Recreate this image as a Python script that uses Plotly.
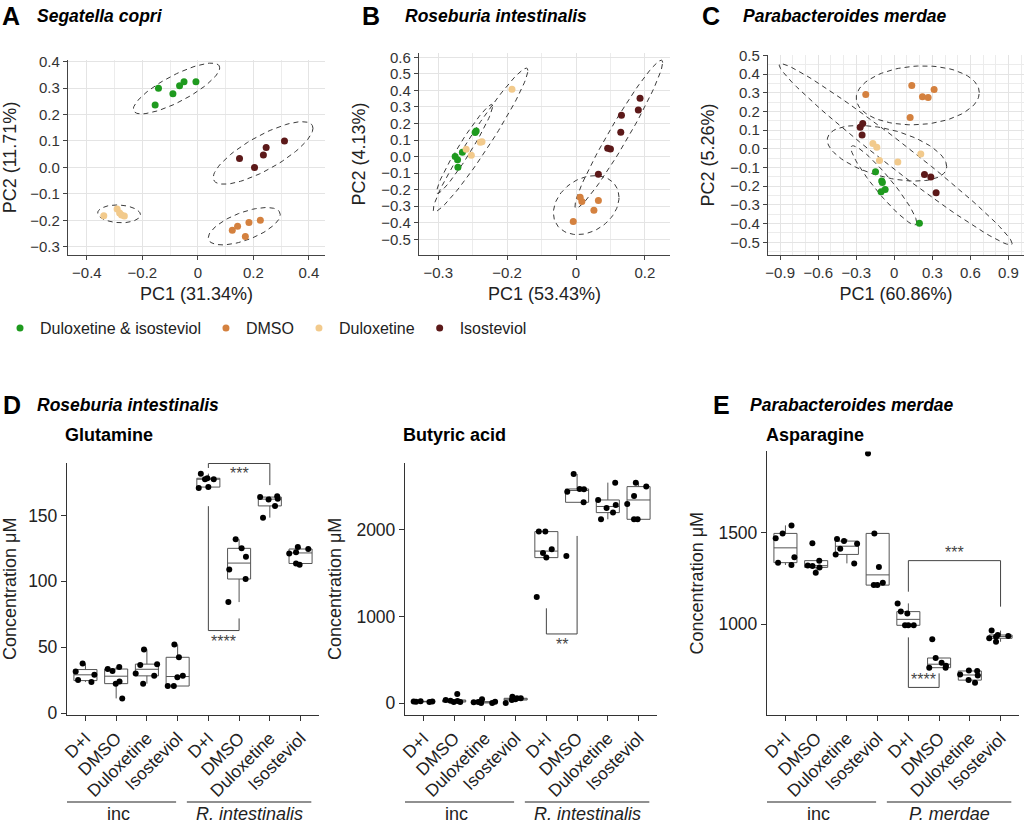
import numpy as np
import plotly.graph_objects as go

FONT = "Liberation Sans, Arial, sans-serif"
GROUPS = ["Duloxetine & isosteviol", "DMSO", "Duloxetine", "Isosteviol"]
COLORS = ["#1e9a1e", "#d4813f", "#f2ca8c", "#5c1919"]

# ---------------- PCA data (PC1, PC2) ----------------
# Panel A  Segatella copri
A_DI_X = [-0.154, -0.142, -0.090, -0.066, -0.050, -0.007]
A_DI_Y = [0.236, 0.299, 0.278, 0.309, 0.324, 0.324]
A_DMSO_X = [0.124, 0.143, 0.184, 0.225, 0.171]
A_DMSO_Y = [-0.237, -0.222, -0.208, -0.200, -0.261]
A_DUL_X = [-0.339, -0.291, -0.275, -0.265, -0.282]
A_DUL_Y = [-0.183, -0.157, -0.180, -0.184, -0.172]
A_ISO_X = [0.150, 0.204, 0.246, 0.236, 0.312]
A_ISO_Y = [0.034, 0.000, 0.075, 0.047, 0.100]

# Panel B  Roseburia intestinalis
B_DI_X = [-0.293, -0.290, -0.330, -0.351, -0.344, -0.343]
B_DI_Y = [0.145, 0.155, 0.026, 0.000, -0.020, -0.065]
B_DMSO_X = [0.012, 0.017, 0.065, 0.052, -0.008]
B_DMSO_Y = [-0.246, -0.272, -0.266, -0.325, -0.393]
B_DUL_X = [-0.186, -0.278, -0.273, -0.319, -0.304]
B_DUL_Y = [0.407, 0.086, 0.090, 0.044, 0.008]
B_ISO_X = [0.186, 0.181, 0.132, 0.130, 0.092, 0.100, 0.065]
B_ISO_Y = [0.352, 0.282, 0.249, 0.147, 0.050, 0.046, -0.107]

# Panel C  Parabacteroides merdae
C_DI_X = [-0.148, -0.099, -0.094, -0.072, -0.104, 0.198]
C_DI_Y = [-0.122, -0.172, -0.180, -0.217, -0.229, -0.398]
C_DMSO_X = [-0.225, 0.138, 0.222, 0.267, 0.314, 0.125]
C_DMSO_Y = [0.291, 0.339, 0.279, 0.275, 0.318, 0.168]
C_DUL_X = [-0.169, -0.138, -0.117, 0.028, 0.209]
C_DUL_Y = [0.029, 0.008, -0.062, -0.071, -0.028]
C_ISO_X = [-0.269, -0.249, -0.254, 0.238, 0.288, 0.330]
C_ISO_Y = [0.115, 0.136, 0.074, -0.137, -0.151, -0.235]

# ---------------- Concentration data ----------------
CATS = ["D+I", "DMSO", "Duloxetine", "Isosteviol", "D+I", "DMSO", "Duloxetine", "Isosteviol"]
GLN = [
    [29, 25, 23.5, 31.5, 37.5],
    [24, 22.3, 34.9, 33.4, 31.9, 11.1],
    [28.2, 30, 36.4, 37.1, 22.3, 48.3],
    [20.5, 20.5, 42.3, 52, 28.2, 27.2],
    [170.8, 177.5, 177.5, 171.5, 178.2, 181.7],
    [101.7, 131.9, 125, 118.6, 109, 84.2],
    [162.1, 162.6, 157.2, 164.6, 163.9, 148.3],
    [113.5, 112.5, 122, 124.5, 121, 126],
]
BUT = [
    [20, 18, 25, 15, 22],
    [38, 27, 15, 15, 108, 30],
    [15, 4, 4, 46, 19, 12],
    [4, 58, 58, 77, 38, 46],
    [1981, 1981, 1777, 1735, 1681, 1227],
    [2646, 2442, 2469, 2473, 2319, 1700],
    [2546, 2346, 2123, 2200, 2288, 2254],
    [2546, 2500, 2392, 2300, 2123, 2123],
]
ASN = [
    [1323, 1336, 1365, 1469, 1496, 1540],
    [1347, 1310, 1442, 1321, 1318, 1281],
    [1454, 1332, 1412, 1440, 1381, 1465],
    [1496, 1226, 1213, 1213, 1312, 1934],
    [1113, 993, 993, 993, 1068, 1058],
    [761, 772, 788, 814, 761, 916],
    [745, 718, 743, 679, 693, 724],
    [934, 903, 930, 940, 964, 922],
]
# brackets: (x_left, x_right, y_bar, y_left_end, y_right_end, label, label_y)
GLN_BRACKETS = [(5, 7, 189.4, 186, 173, "***", 181.5), (5, 6, 62.6, 157, 71.8, "****", 54.5)]
BUT_BRACKETS = [(5, 6, 800, 1096, 1931, "**", 673)]
ASN_BRACKETS = [(5, 8, 1347, 1177, 1095, "***", 1392), (5, 6, 653, 927, 730, "****", 697)]
ASN_TICKVALS = [500, 1000, 1500]
ASN_TICKTEXT = ["0", "1000", "1500"]
B_TICKVALS = [-0.4, -0.2, 0, 0.2]
B_TICKTEXT = ["\u22120.3", "\u22120.2", "0", "0.2"]

FQ95 = {2: 19.0, 3: 9.552, 4: 6.944, 5: 5.786, 6: 5.143, 7: 4.737}


def cov_trob(P, nu=5, maxit=25, tol=0.01):
    """Multivariate t robust covariance (as MASS::cov.trob, used by ggplot stat_ellipse)."""
    n, p = P.shape
    wt = np.ones(n)
    loc = P.mean(axis=0)
    w = np.sqrt(wt)
    X = P - loc
    for _ in range(maxit):
        w0 = w
        X = P - loc
        S = (X * (w / w.sum())[:, None]).T @ X
        Q = np.einsum("ij,jk,ik->i", X, np.linalg.inv(S), X)
        w = wt * (nu + p) / (nu + Q)
        loc = (w[:, None] * P).sum(axis=0) / w.sum()
        if np.all(np.abs(w - w0) < tol):
            break
    cov = (X * w[:, None]).T @ X / wt.sum()
    return loc, cov


def ellipse(x, y, nseg=80):
    P = np.column_stack([np.asarray(x, float), np.asarray(y, float)])
    n = len(P)
    c, cov = cov_trob(P)
    r = np.sqrt(2 * FQ95[n - 1])
    L = np.linalg.cholesky(cov)
    t = np.linspace(0, 2 * np.pi, nseg + 1)
    pts = c[:, None] + r * (L @ np.vstack([np.cos(t), np.sin(t)]))
    return pts[0], pts[1]


fig = go.Figure()

pca_sets = [
    ("x", "y", [(A_DI_X, A_DI_Y), (A_DMSO_X, A_DMSO_Y), (A_DUL_X, A_DUL_Y), (A_ISO_X, A_ISO_Y)], True),
    ("x2", "y2", [(B_DI_X, B_DI_Y), (B_DMSO_X, B_DMSO_Y), (B_DUL_X, B_DUL_Y), (B_ISO_X, B_ISO_Y)], False),
    ("x3", "y3", [(C_DI_X, C_DI_Y), (C_DMSO_X, C_DMSO_Y), (C_DUL_X, C_DUL_Y), (C_ISO_X, C_ISO_Y)], False),
]
for xa, ya, sets, leg in pca_sets:
    for (px, py) in sets:
        ex, ey = ellipse(px, py)
        fig.add_trace(go.Scatter(x=ex, y=ey, mode="lines", xaxis=xa, yaxis=ya, showlegend=False,
                                 line=dict(color="#3a3a3a", width=1, dash="5px,4px"), hoverinfo="skip"))
    for g, (px, py) in enumerate(sets):
        fig.add_trace(go.Scatter(x=px, y=py, mode="markers", xaxis=xa, yaxis=ya, name=GROUPS[g],
                                 showlegend=leg, marker=dict(color=COLORS[g], size=7)))

box_sets = [("x4", "y4", GLN, GLN_BRACKETS), ("x5", "y5", BUT, BUT_BRACKETS), ("x6", "y6", ASN, ASN_BRACKETS)]
shapes = []
annotations = []
for xa, ya, data, brackets in box_sets:
    xs, ys = [], []
    for i, vals in enumerate(data):
        xs += [i + 1] * len(vals)
        ys += vals
    fig.add_trace(go.Box(x=xs, y=ys, xaxis=xa, yaxis=ya, boxpoints="all", jitter=1.0, pointpos=0,
                         width=0.75, whiskerwidth=0, quartilemethod="linear", fillcolor="white",
                         line=dict(color="#555555", width=1), marker=dict(color="black", size=6),
                         showlegend=False))
    for (x0, x1, yb, yl, yr, lab, ly) in brackets:
        for seg in [(x0, yl, x0, yb), (x0, yb, x1, yb), (x1, yb, x1, yr)]:
            shapes.append(dict(type="line", xref=xa, yref=ya, x0=seg[0], y0=seg[1], x1=seg[2], y1=seg[3],
                               line=dict(color="#444444", width=1)))
        annotations.append(dict(x=(x0 + x1) / 2, y=ly, xref=xa, yref=ya, text=lab, showarrow=False,
                                font=dict(size=16, color="#444444", family=FONT)))

# group labels under the box panels
GROUP_SPANS = [(0.2, 3.95), (4.3, 8.35)]
GROUP_LABELS = {"x4": ["inc", "<i>R. intestinalis</i>"], "x5": ["inc", "<i>R. intestinalis</i>"],
                "x6": ["inc", "<i>P. merdae</i>"]}
for xa, labs in GROUP_LABELS.items():
    for (s0, s1), lab in zip(GROUP_SPANS, labs):
        shapes.append(dict(type="line", xref=xa, yref="paper", x0=s0, x1=s1, y0=1 - 802 / 825, y1=1 - 802 / 825,
                           line=dict(color="#222222", width=1.2)))
        annotations.append(dict(x=(s0 + s1) / 2, y=1 - 813.5 / 825, xref=xa, yref="paper", text=lab,
                                showarrow=False, yanchor="middle",
                                font=dict(size=18, color="#222222", family=FONT)))


def ptitle(letter, lx, tx, ty, title):
    annotations.append(dict(x=lx / 1024, y=1 - ty / 825, xref="paper", yref="paper", text="<b>%s</b>" % letter,
                            showarrow=False, xanchor="left", yanchor="middle",
                            font=dict(size=25, color="black", family=FONT)))
    annotations.append(dict(x=tx / 1024, y=1 - ty / 825, xref="paper", yref="paper",
                            text="<b><i>%s</i></b>" % title, showarrow=False, xanchor="left", yanchor="middle",
                            font=dict(size=17.5, color="black", family=FONT)))


ptitle("A", 0, 35, 16, "Segatella copri")
ptitle("B", 360, 403, 16, "Roseburia intestinalis")
ptitle("C", 700, 741, 16, "Parabacteroides merdae")
ptitle("D", 1, 35, 405, "Roseburia intestinalis")
ptitle("E", 711, 748, 405, "Parabacteroides merdae")
for tx, t in [(63, "Glutamine"), (401, "Butyric acid"), (764, "Asparagine")]:
    annotations.append(dict(x=tx / 1024, y=1 - 435 / 825, xref="paper", yref="paper", text="<b>%s</b>" % t,
                            showarrow=False, xanchor="left", yanchor="middle",
                            font=dict(size=18, color="black", family=FONT)))

AX_LINE = "#444444"
GRID = "#e4e4e4"


def pca_axis(domain, rng, title, anchor, standoff, dtick=None, minor=None, tickvals=None, ticktext=None, fmt=None):
    d = dict(domain=domain, range=rng, anchor=anchor, automargin=False, showline=True, linecolor=AX_LINE,
             linewidth=1.3, ticks="outside", ticklen=4, tickcolor=AX_LINE, showgrid=True, gridcolor=GRID,
             gridwidth=1, zeroline=False, tickfont=dict(size=15, color="#333333", family=FONT),
             title=dict(text=title, font=dict(size=18, color="#222222", family=FONT), standoff=standoff))
    if dtick is not None:
        d.update(dtick=dtick, tick0=0)
    if tickvals is not None:
        d.update(tickmode="array", tickvals=tickvals, ticktext=ticktext)
    if minor is not None:
        d["minor"] = dict(dtick=minor, tick0=0, showgrid=True, gridcolor="#ececec", ticks="")
    if fmt:
        d["tickformat"] = fmt
    return d


def box_xaxis(domain, anchor):
    return dict(domain=domain, range=[0.4, 8.6], anchor=anchor, automargin=False, showline=True,
                linecolor="#333333", linewidth=1.3, ticks="outside", ticklen=5, tickcolor="#333333",
                showgrid=False, zeroline=False, tickmode="array", tickvals=list(range(1, 9)), ticktext=CATS,
                tickangle=-45, tickfont=dict(size=17.5, color="#222222", family=FONT))


def box_yaxis(domain, rng, anchor, **kw):
    d = dict(domain=domain, range=rng, anchor=anchor, automargin=False, showline=True, linecolor="#333333",
             linewidth=1.3, ticks="outside", ticklen=5, tickcolor="#333333", showgrid=False, zeroline=False,
             tickfont=dict(size=17.5, color="#222222", family=FONT),
             title=dict(text="Concentration \u03bcM", font=dict(size=18, color="#222222", family=FONT),
                        standoff=10))
    d.update(kw)
    return d


TOPY = [1 - 255 / 825, 1 - 60 / 825]
BOTY = [1 - 715 / 825, 1 - 462.7 / 825]

fig.update_layout(
    width=1024, height=825, margin=dict(l=0, r=0, t=0, b=0, pad=0, autoexpand=False),
    paper_bgcolor="white", plot_bgcolor="white", font=dict(family=FONT),
    xaxis=pca_axis([68 / 1024, 325 / 1024], [-0.468, 0.458], "PC1 (31.34%)", "y", 7, dtick=0.2, minor=0.1),
    yaxis=pca_axis(TOPY, [-0.331, 0.406], "PC2 (11.71%)", "x", 10, dtick=0.1, fmt=".1f"),
    xaxis2=pca_axis([419 / 1024, 670 / 1024], [-0.456, 0.273], "PC1 (53.43%)", "y2", 7, minor=0.1,
                    tickvals=B_TICKVALS, ticktext=B_TICKTEXT),
    yaxis2=pca_axis([1 - 255 / 825, 1 - 53 / 825], [-0.595, 0.626], "PC2 (4.13%)", "x2", 10, dtick=0.1,
                    fmt=".1f"),
    xaxis3=pca_axis([768 / 1024, 1.0], [-0.996, 1.023], "PC1 (60.86%)", "y3", 7, dtick=0.3, minor=0.1),
    yaxis3=pca_axis([1 - 255 / 825, 1 - 55 / 825], [-0.568, 0.502], "PC2 (5.26%)", "x3", 10, dtick=0.1,
                    minor=0.05, fmt=".1f"),
    xaxis4=box_xaxis([67 / 1024, 319 / 1024], "y4"),
    yaxis4=box_yaxis(BOTY, [-1.5, 190], "x4", tickmode="array", tickvals=[0, 50, 100, 150]),
    xaxis5=box_xaxis([405 / 1024, 657 / 1024], "y5"),
    yaxis5=box_yaxis(BOTY, [-135, 2776], "x5", tickmode="array", tickvals=[0, 1000, 2000]),
    xaxis6=box_xaxis([767 / 1024, 1019 / 1024], "y6"),
    yaxis6=box_yaxis([1 - 715 / 825, 1 - 451.4 / 825], [502, 1945], "x6", tickmode="array",
                     tickvals=ASN_TICKVALS, ticktext=ASN_TICKTEXT),
    legend=dict(orientation="h", x=0.0, y=1 - 328 / 825, xanchor="left", yanchor="middle",
                font=dict(size=16, color="#222222", family=FONT), itemwidth=30, bgcolor="rgba(0,0,0,0)"),
    shapes=shapes, annotations=annotations,
)

fig.write_html("out.html")
